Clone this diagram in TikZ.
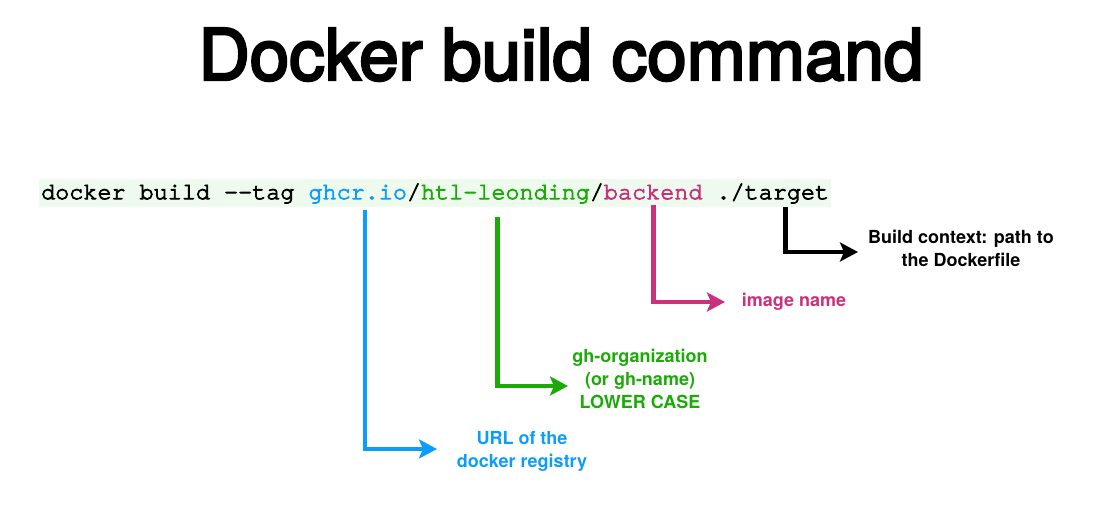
\documentclass[tikz,border=0pt]{standalone}
\usepackage{fontspec}
\setmainfont{TeX Gyre Heros}
\setmonofont{TeX Gyre Cursor}
\newfontfamily\titlefont[FakeBold=3.5]{TeX Gyre Heros}
\newfontfamily\codefont[FakeBold=3.5]{TeX Gyre Cursor}
\usetikzlibrary{arrows.meta}

\begin{document}
\begin{tikzpicture}[x=1pt,y=-1pt,>={Stealth[length=18pt,width=19pt,inset=4pt]},line width=4.3pt]
\definecolor{regblue}{RGB}{12,157,250} % registry blue
\definecolor{orggreen}{RGB}{28,170,8}
\definecolor{imgpink}{RGB}{201,49,124}
\definecolor{codebg}{RGB}{238,250,238}
\tikzset{lbl/.style={font=\bfseries\fontsize{18}{23}\selectfont, align=center, inner sep=0pt}}
\useasboundingbox (0,0) rectangle (1101,529);

\node[font=\titlefont\fontsize{71}{71}\selectfont, anchor=base] (title) at (561,80) {Docker build command};

% the command line
\node[fill=codebg, anchor=north west, inner xsep=2pt, inner ysep=0pt, text height=20pt, text depth=8pt,
  font=\codefont\fontsize{23.45}{28}\selectfont] (cmd) at (37,177)
  {docker build -\kern0pt-tag \textcolor{regblue}{ghcr.io}/\textcolor{orggreen}{htl-leonding}/\textcolor{imgpink}{backend} ./target};

% where the lines leave the command
\coordinate (regtap) at (365,210);
\coordinate (orgtap) at (497.5,217);
\coordinate (imgtap) at (653.5,205);
\coordinate (ctxtap) at (785.5,207);

% arrow tips
\coordinate (regtip) at (437,449);
\coordinate (orgtip) at (568,386);
\coordinate (imgtip) at (725,302);
\coordinate (ctxtip) at (858,252);

% labels
\node[lbl, regblue] (urllbl) at (522,451) {URL of the\\docker registry};
\node[lbl, orggreen] (orglbl) at (640,379) {gh-organization\\(or gh-name)\\LOWER CASE};
\node[lbl, imgpink] (imglbl) at (794,302) {image name};
\node[lbl] (ctxlbl) at (961,248) {Build context: path to\\the Dockerfile};

\draw[->,regblue] (regtap) |- (regtip);
\draw[->,orggreen] (orgtap) |- (orgtip);
\draw[->,imgpink] (imgtap) |- (imgtip);
\draw[->,black] (ctxtap) |- (ctxtip);
\end{tikzpicture}
\end{document}
